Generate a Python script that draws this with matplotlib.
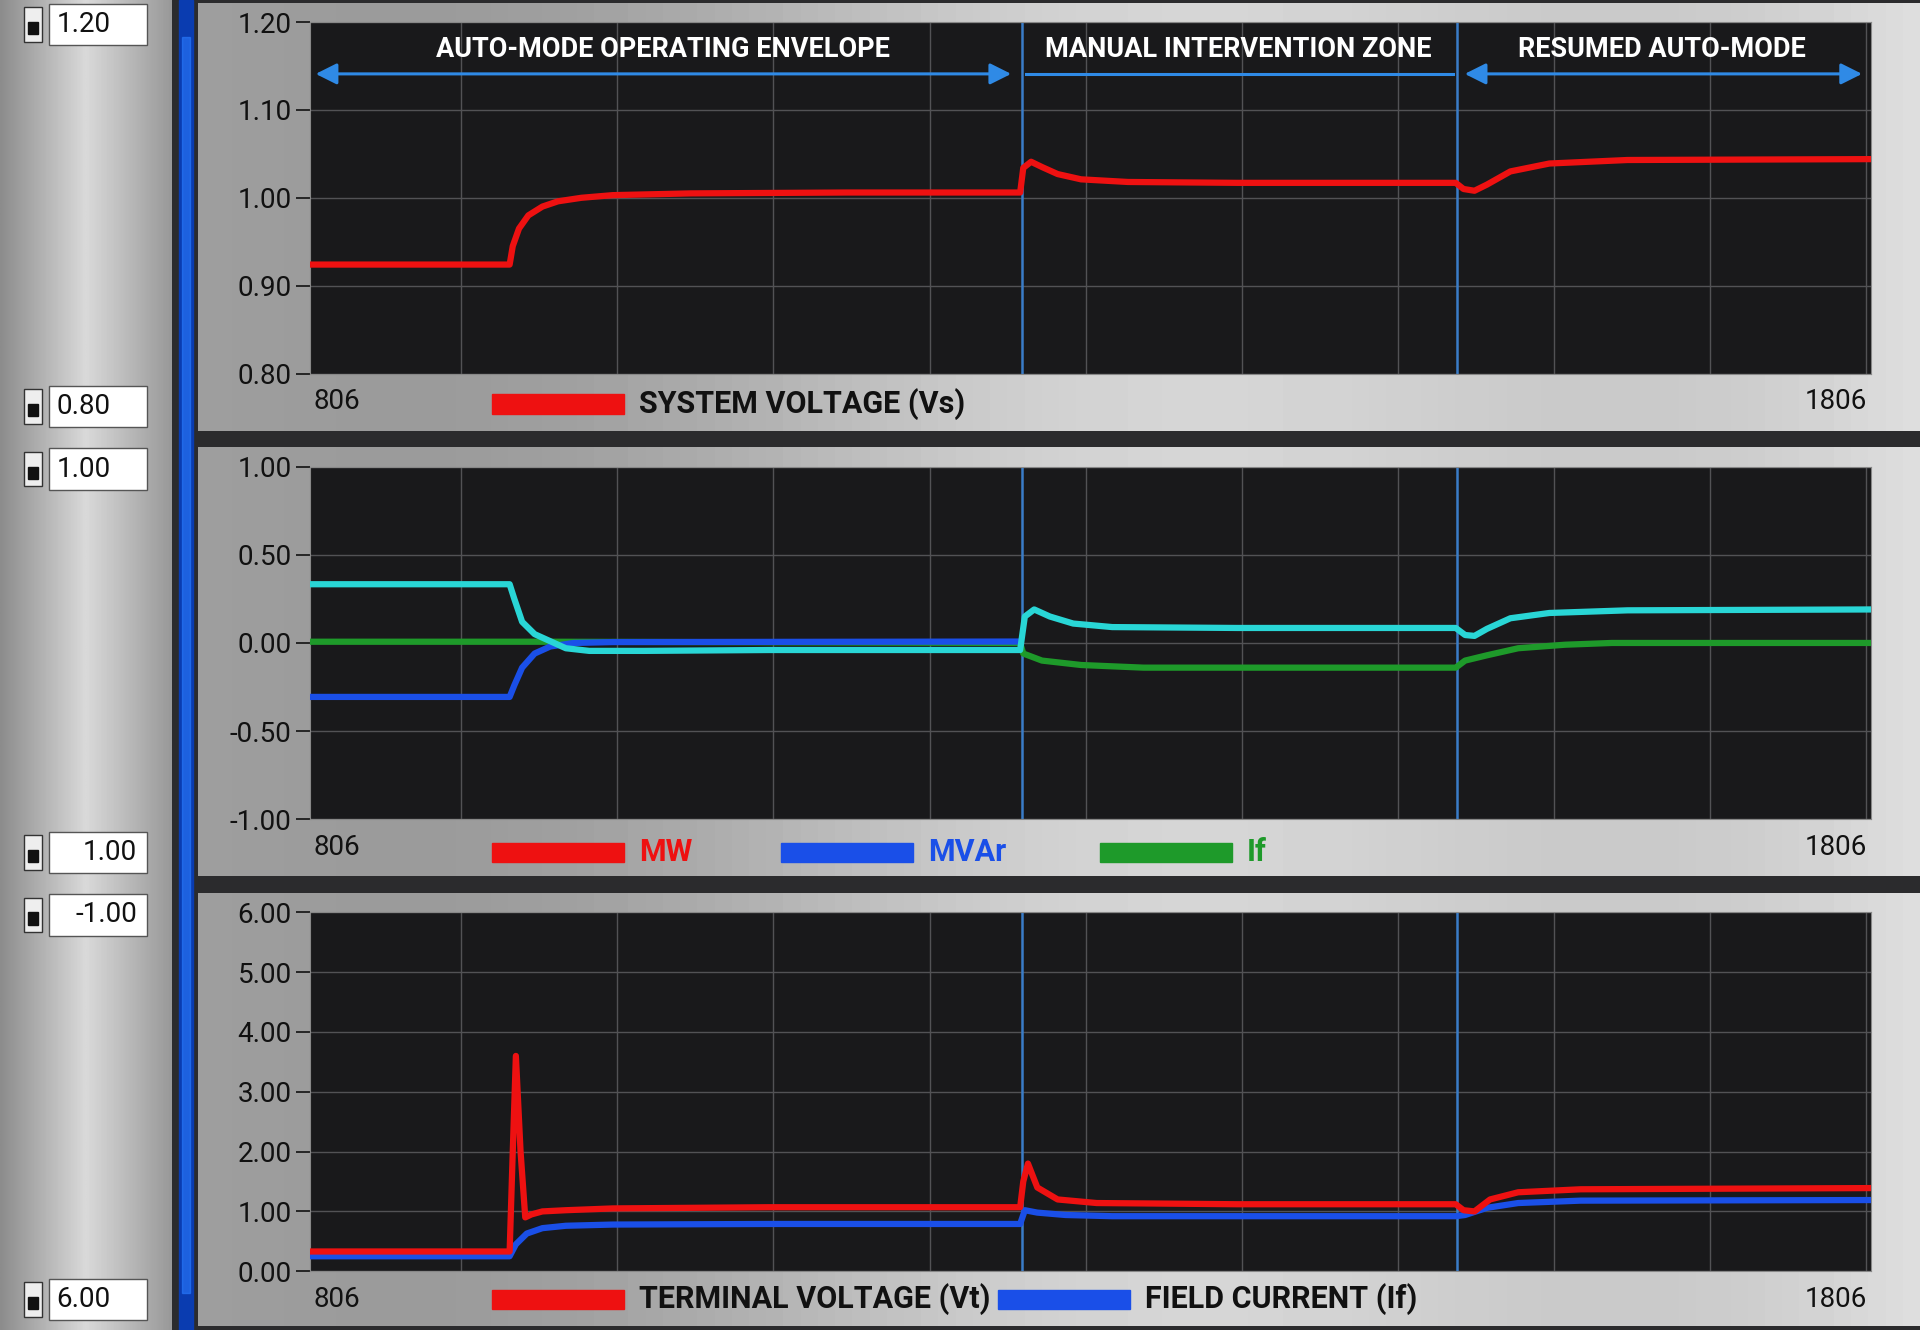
import numpy as np
import matplotlib.pyplot as plt
from matplotlib.patches import Rectangle

W, H = 1568, 1086   # reference pixel frame used for layout

# ── Data ──────────────────────────────────────────────────────────────────────
X_MIN, X_MAX = 806, 1806
MODE_SWITCH = [1262, 1541]

vs_x = [806, 934, 936, 940, 946, 955, 965, 980, 1000, 1050, 1150, 1261, 1263, 1268, 1275, 1285, 1300, 1330, 1400, 1540, 1545, 1552, 1560, 1575, 1600, 1650, 1806]
vs_y = [0.924, 0.924, 0.945, 0.965, 0.980, 0.990, 0.996, 1.000, 1.003, 1.005, 1.006, 1.006, 1.034, 1.041, 1.035, 1.027, 1.021, 1.018, 1.017, 1.017, 1.010, 1.008, 1.015, 1.030, 1.039, 1.043, 1.044]

cyan_x = [806, 934, 937, 942, 950, 960, 970, 985, 1020, 1100, 1261, 1264, 1270, 1280, 1295, 1320, 1400, 1540, 1546, 1552, 1560, 1575, 1600, 1650, 1806]
cyan_y = [0.333, 0.333, 0.25, 0.12, 0.05, 0.01, -0.03, -0.045, -0.045, -0.04, -0.04, 0.15, 0.19, 0.15, 0.11, 0.09, 0.085, 0.085, 0.045, 0.04, 0.08, 0.14, 0.17, 0.185, 0.19]

mvar_x = [806, 934, 937, 942, 950, 960, 975, 1000, 1261]
mvar_y = [-0.306, -0.306, -0.24, -0.14, -0.06, -0.02, 0.0, 0.005, 0.008]

if_x = [806, 960, 1261, 1263, 1275, 1300, 1340, 1540, 1546, 1560, 1580, 1610, 1640, 1806]
if_y = [0.007, 0.007, 0.0, -0.06, -0.10, -0.125, -0.14, -0.14, -0.10, -0.07, -0.03, -0.01, 0.0, 0.0]

vt_x = [806, 934, 936, 938, 941, 944, 948, 955, 970, 1000, 1100, 1261, 1263, 1266, 1272, 1285, 1310, 1400, 1540, 1545, 1552, 1562, 1580, 1620, 1806]
vt_y = [0.33, 0.33, 2.0, 3.6, 2.0, 0.9, 0.95, 1.0, 1.02, 1.05, 1.07, 1.07, 1.5, 1.8, 1.4, 1.2, 1.14, 1.12, 1.12, 1.02, 1.0, 1.2, 1.32, 1.37, 1.39]

fc_x = [806, 934, 938, 945, 955, 970, 1000, 1100, 1261, 1264, 1272, 1290, 1320, 1540, 1546, 1560, 1580, 1620, 1806]
fc_y = [0.25, 0.25, 0.45, 0.63, 0.72, 0.76, 0.78, 0.79, 0.79, 1.02, 0.98, 0.94, 0.92, 0.92, 0.94, 1.06, 1.14, 1.18, 1.19]

SIDE_VALUES = [(20, "1.20"), (332, "0.80"), (383, "1.00"), (696, "1.00"), (747, "-1.00"), (1061, "6.00")]

RED, BLUE, GREEN, CYAN = "#ee1111", "#1a4fe8", "#1e9a2a", "#29d6d6"
ARROW = "#2f8ae6"
FONT = ["Roboto", "DejaVu Sans"]
plt.rcParams["font.family"] = FONT

fig = plt.figure(figsize=(19.2, 13.3), dpi=100)


def fb(x0, y0, x1, y1):
    """ref-pixel box -> figure fraction rect"""
    return [x0 / W, 1 - y1 / H, (x1 - x0) / W, (y1 - y0) / H]


# ── Background / frames ───────────────────────────────────────────────────────
bg = fig.add_axes([0, 0, 1, 1])
bg.set_xlim(0, W); bg.set_ylim(H, 0); bg.axis("off")
bg.add_patch(Rectangle((0, 0), W, H, color="#2b2b2d", zorder=0))

grad = np.tile(np.concatenate([np.linspace(0.55, 0.85, 50), np.linspace(0.85, 0.6, 50)]), (10, 1))
bg.imshow(grad, cmap="gray", vmin=0, vmax=1, extent=[0, 140, H, 0], aspect="auto", zorder=1)
bg.add_patch(Rectangle((146, 0), 12, H, color="#0a3cb0", zorder=2))
bg.add_patch(Rectangle((149, 30), 6, H - 60, color="#2a7bff", alpha=0.6, zorder=2))

for y0, y1 in [(3, 352), (365, 715), (730, 1083)]:
    fgrad = np.tile(np.linspace(0.62, 0.9, 100) * (1 - 0.08 * np.sin(np.linspace(0, 9, 100))), (10, 1))
    bg.imshow(fgrad, cmap="gray", vmin=0, vmax=1, extent=[162, W, y1, y0], aspect="auto", zorder=1)

for y, txt in SIDE_VALUES:
    bg.add_patch(Rectangle((40, y - 17), 80, 34, facecolor="white", edgecolor="#555", lw=1, zorder=3))
    bg.add_patch(Rectangle((20, y - 14), 14, 28, facecolor="#eee", edgecolor="#333", lw=1, zorder=3))
    bg.add_patch(Rectangle((23, y - 2), 8, 10, color="#111", zorder=4))
    right = txt.startswith("-") or y == 696
    bg.text(112 if right else 46, y, txt, ha="right" if right else "left",
            va="center", fontsize=20, color="#111", zorder=5)


# ── Plot panels ───────────────────────────────────────────────────────────────
def panel(y0, y1, ylim, ticks):
    ax = fig.add_axes(fb(253, y0, 1528, y1))
    ax.set_facecolor("#19191b")
    ax.set_xlim(X_MIN, X_MAX)
    ax.set_ylim(*ylim)
    ax.set_yticks(ticks)
    ax.set_yticklabels([f"{t:.2f}" for t in ticks])
    ax.set_xticks(np.arange(903, X_MAX, 100))
    ax.tick_params(axis="x", length=0, labelbottom=False)
    ax.tick_params(axis="y", length=10, width=1.2, colors="#111", labelsize=20,
                   direction="out", pad=3)
    ax.grid(True, color="#525255", lw=1)
    ax.set_axisbelow(True)
    for s in ax.spines.values():
        s.set_color("#888")
    for xv in MODE_SWITCH:
        ax.axvline(xv, color="#3a7cc8", lw=1.8, zorder=2)
    return ax


LW = 4.5
ax1 = panel(18, 305, (0.80, 1.20), np.arange(0.8, 1.21, 0.1))
ax1.plot(vs_x, vs_y, color=RED, lw=LW, zorder=3)

ax2 = panel(381, 669, (-1.0, 1.0), np.arange(-1.0, 1.01, 0.5))
ax2.plot(if_x, if_y, color=GREEN, lw=LW, zorder=3)
ax2.plot(mvar_x, mvar_y, color=BLUE, lw=LW, zorder=4)
ax2.plot(cyan_x, cyan_y, color=CYAN, lw=LW, zorder=5)

ax3 = panel(745, 1038, (0.0, 6.0), np.arange(0, 6.1, 1.0))
ax3.plot(fc_x, fc_y, color=BLUE, lw=LW, zorder=3)
ax3.plot(vt_x, vt_y, color=RED, lw=LW, zorder=4)

# zone annotations
ya, yt = 1.141, 1.169
arrow_kw = dict(arrowstyle="<|-|>", color=ARROW, lw=2.2, mutation_scale=32)
ax1.annotate("", xy=(808, ya), xytext=(1257, ya), arrowprops=arrow_kw)
ax1.plot([1265, 1538], [ya, ya], color=ARROW, lw=2.2)
ax1.annotate("", xy=(1544, ya), xytext=(1802, ya), arrowprops=arrow_kw)
for xc, txt in [(1032, "AUTO-MODE OPERATING ENVELOPE"), (1401, "MANUAL INTERVENTION ZONE"),
                (1672, "RESUMED AUTO-MODE")]:
    ax1.text(xc, yt, txt, ha="center", va="center", color="white", fontsize=19.5,
             fontweight="bold")

# x extent labels + legends in the frame strips
for y in [328, 692, 1061]:
    bg.text(256, y, "806", ha="left", va="center", fontsize=20, color="#111", zorder=5)
    bg.text(1525, y, "1806", ha="right", va="center", fontsize=20, color="#111", zorder=5)


def legend_item(x, y, color, label, tcolor="#111"):
    bg.add_patch(Rectangle((x, y - 8), 108, 16, color=color, zorder=5))
    bg.text(x + 120, y, label, ha="left", va="center", fontsize=22, color=tcolor,
            fontweight="bold", zorder=5)


legend_item(402, 330, RED, "SYSTEM VOLTAGE (Vs)")
legend_item(402, 696, RED, "MW", RED)
legend_item(638, 696, BLUE, "MVAr", BLUE)
legend_item(898, 696, GREEN, "If", GREEN)
legend_item(402, 1061, RED, "TERMINAL VOLTAGE (Vt)")
legend_item(815, 1061, BLUE, "FIELD CURRENT (If)")

fig.savefig("out.png", dpi=100)
